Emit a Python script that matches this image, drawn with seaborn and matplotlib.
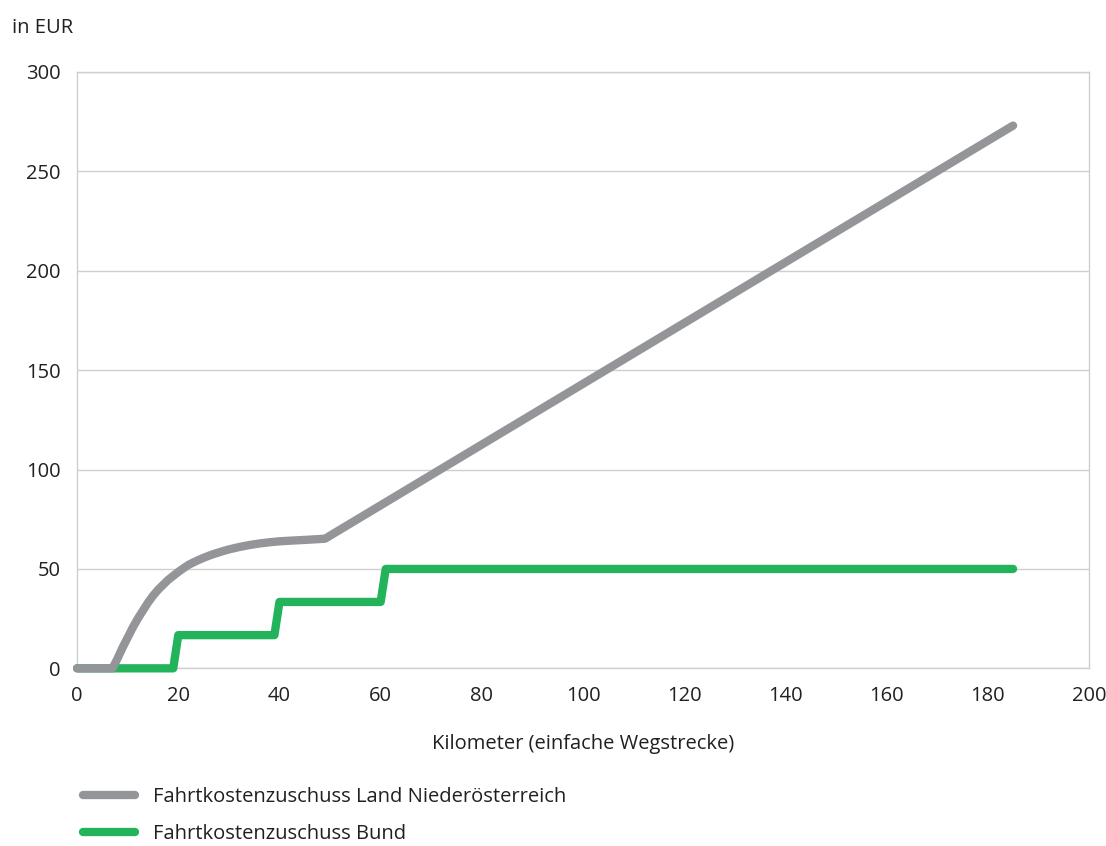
import matplotlib
matplotlib.use("Agg")
import matplotlib.pyplot as plt
import seaborn as sns
import pandas as pd

# Fahrtkostenzuschuss Land Niederösterreich (EUR) by one-way distance (km)
km_land = [0, 7, 8, 9, 10, 11, 12, 13, 14, 15, 16, 17, 18, 19, 20, 21, 22, 23,
           24, 25, 26, 27, 28, 29, 30, 32, 34, 36, 38, 40, 42, 45, 49, 185]
eur_land = [0, 0, 5, 10.5, 15.5, 20.5, 25, 29, 33, 36.5, 39.5, 42, 44.5, 46.5,
            48.5, 50.3, 52, 53.3, 54.5, 55.6, 56.6, 57.5, 58.3, 59.1, 59.8,
            61, 62, 62.8, 63.4, 63.9, 64.2, 64.6, 65.2, 273]

# Fahrtkostenzuschuss Bund (EUR), stepped by distance band
km_bund = [0, 19, 20, 30, 39, 40, 50, 60, 61, 185]
eur_bund = [0, 0, 16.7, 16.7, 16.7, 33.4, 33.4, 33.4, 50, 50]

x_ticks = [0, 20, 40, 60, 80, 100, 120, 140, 160, 180, 200]
y_ticks = [0, 50, 100, 150, 200, 250, 300]

label_land = "Fahrtkostenzuschuss Land Niederösterreich"
label_bund = "Fahrtkostenzuschuss Bund"

GRAY = "#939598"
GREEN = "#22b35b"
GRID = "#cfcfcf"
TEXT = "#231f20"

sns.set_style("white")
plt.rcParams["font.family"] = ["Open Sans", "DejaVu Sans"]
plt.rcParams["font.size"] = 14.5

df_land = pd.DataFrame({"km": km_land, "eur": eur_land})
df_bund = pd.DataFrame({"km": km_bund, "eur": eur_bund})

fig = plt.figure(figsize=(11.06, 8.46), dpi=100)
ax = fig.add_axes([0.0697, 0.21, 0.9149, 0.705])

lw = 6.0
sns.lineplot(data=df_bund, x="km", y="eur", ax=ax, color=GREEN, linewidth=lw,
             label=label_bund, solid_capstyle="round", solid_joinstyle="round",
             clip_on=False, zorder=3, estimator=None, sort=False)
sns.lineplot(data=df_land, x="km", y="eur", ax=ax, color=GRAY, linewidth=lw,
             label=label_land, solid_capstyle="round", solid_joinstyle="round",
             clip_on=False, zorder=4, estimator=None, sort=False)

ax.set_xlim(0, 200)
ax.set_ylim(0, 300)
ax.set_xticks(x_ticks)
ax.set_yticks(y_ticks)
ax.set_xticklabels([str(v) for v in x_ticks], color=TEXT)
ax.set_yticklabels([str(v) for v in y_ticks], color=TEXT)

ax.yaxis.grid(True, color=GRID, linewidth=1.0)
ax.xaxis.grid(False)
ax.set_axisbelow(True)

for side in ["left", "right", "top", "bottom"]:
    ax.spines[side].set_visible(True)
    ax.spines[side].set_color(GRID)
    ax.spines[side].set_linewidth(1.0)

ax.tick_params(axis="x", which="major", length=5, width=1, color=GRID,
               pad=8, labelsize=14.5)
ax.tick_params(axis="y", which="major", length=0, pad=12, labelsize=14.5)

ax.set_xlabel("Kilometer (einfache Wegstrecke)", fontsize=14.5, color=TEXT,
              labelpad=20)
ax.set_ylabel("")

fig.text(0.011, 0.967, "in EUR", fontsize=14.5, color=TEXT,
         ha="left", va="center")

# legend below the plot area
handles, labels = ax.get_legend_handles_labels()
order = [labels.index(label_land), labels.index(label_bund)]
ax.legend([handles[i] for i in order], [labels[i] for i in order],
          loc="upper left", bbox_to_anchor=(0.0747, 0.070),
          bbox_transform=fig.transFigure, frameon=False,
          handlelength=2.6, handletextpad=0.9, labelspacing=0.85,
          fontsize=14.5, borderaxespad=0, borderpad=0)
for line in ax.get_legend().get_lines():
    line.set_linewidth(lw)
    line.set_solid_capstyle("round")
for t in ax.get_legend().get_texts():
    t.set_color(TEXT)

fig.savefig("out.png", dpi=100)
